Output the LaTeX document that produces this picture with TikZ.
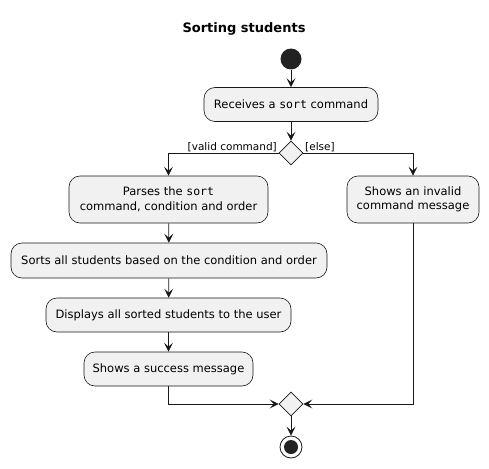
\documentclass[tikz,border=0pt]{standalone}
\usepackage{fontspec}
\setmainfont{DejaVu Sans}
\setmonofont{DejaVu Sans Mono}
\usetikzlibrary{arrows.meta,shapes.geometric}
\definecolor{boxfill}{HTML}{F1F1F1}
\definecolor{ink}{HTML}{181818}
\definecolor{dotc}{HTML}{222222}
\tikzset{
  x=1pt,y=-1pt,
  act/.style={draw=ink,fill=boxfill,rounded corners=11pt,line width=0.6pt,minimum height=34pt,inner sep=0pt,align=center,font=\fontsize{11.5}{14.5}\selectfont},
  dec/.style={draw=ink,fill=boxfill,diamond,minimum width=24pt,minimum height=24pt,inner sep=0pt,line width=0.6pt},
  flow/.style={draw=ink,line width=0.8pt,-{Stealth[length=9pt,width=9pt,inset=4pt]}},
  lbl/.style={font=\fontsize{10.5}{12}\selectfont,inner sep=1pt},
}
\begin{document}
\begin{tikzpicture}
\useasboundingbox (0,0) rectangle (489,468);
\node[font=\bfseries\fontsize{13}{15}\selectfont] (title) at (244,29) {Sorting students};
\node[circle,fill=dotc,minimum size=21pt,inner sep=0pt] (start) at (291,59) {};
\node[act,minimum width=174pt] (recv) at (291,104.5) {Receives a \texttt{sort} command};
\node[dec] (d1) at (291,153) {};
\node[act,minimum width=199pt,minimum height=47pt] (parse) at (168.5,199.5) {Parses the \texttt{sort}\\command, condition and order};
\node[act,minimum width=132pt,minimum height=47pt] (invalid) at (413,199.5) {Shows an invalid\\command message};
\node[act,minimum width=316pt,minimum height=35pt] (sorts) at (169,260.5) {Sorts all students based on the condition and order};
\node[act,minimum width=245pt] (disp) at (168.5,315) {Displays all sorted students to the user};
\node[act,minimum width=169pt] (succ) at (168.5,369) {Shows a success message};
\node[dec] (d2) at (291,404) {};
\node[circle,draw=ink,line width=0.8pt,fill=white,minimum size=22pt,inner sep=0pt] (end) at (291,447) {};
\node[circle,fill=dotc,minimum size=14pt,inner sep=0pt] (endin) at (291,447) {};
\draw[flow] (start) -- (recv);
\draw[flow] (recv) -- (d1);
\draw[flow] (d1.west) -| (parse.north);
\draw[flow] (d1.east) -| (invalid.north);
\node[lbl,anchor=south east] (lv) at (278,153) {[valid command]};
\node[lbl,anchor=south west] (le) at (304,153) {[else]};
\draw[flow] (parse) -- (sorts);
\draw[flow] (sorts) -- (disp);
\draw[flow] (disp) -- (succ);
\draw[flow] (succ.south) |- (d2.west);
\draw[flow] (invalid.south) |- (d2.east);
\draw[flow] (d2) -- (end);
\end{tikzpicture}
\end{document}
